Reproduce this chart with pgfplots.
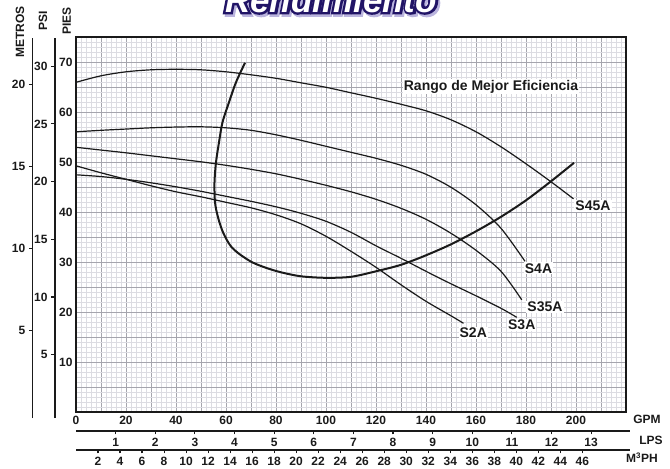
\documentclass[border=0pt]{standalone}
\usepackage{pgfplots}
\pgfplotsset{compat=1.18}
\usepackage{fontspec}
\setmainfont{Liberation Sans}
\newfontfamily\ttlout[FakeBold=14]{Liberation Sans Bold Italic}
\newfontfamily\ttlin{Liberation Sans Bold Italic}

\definecolor{ink}{HTML}{1A1A1A}
\definecolor{gmaj}{HTML}{A5A5AD}
\definecolor{gmin}{HTML}{DCDCE2}
\definecolor{navy}{HTML}{211466}
\definecolor{lav}{HTML}{BBB5DE}

\newcommand{\tl}{\fontsize{12}{12}\selectfont\bfseries}
\newcommand{\lb}{\fontsize{14}{14}\selectfont\bfseries}

\begin{document}
\begin{tikzpicture}
\path[use as bounding box] (0pt,0pt) rectangle (670pt,-469pt);

% title (cut by the top edge)
\node[anchor=base, inner sep=0pt, lav] at (333pt,-14.5pt) {\ttlout\fontsize{35}{35}\selectfont Rendimiento};
\node[anchor=base, inner sep=0pt, navy] at (331pt,-12pt) {\ttlout\fontsize{35}{35}\selectfont Rendimiento};
\node[anchor=base, inner sep=0pt, white] at (331pt,-12pt) {\ttlin\fontsize{35}{35}\selectfont Rendimiento};

\begin{axis}[
  at={(76pt,-412.3pt)}, anchor=south west, scale only axis,
  width=550pt, height=375pt,
  xmin=0, xmax=220, ymin=0, ymax=75,
  xtick={0,10,...,220},
  xticklabels={0,{},20,{},40,{},60,{},80,{},100,{},120,{},140,{},160,{},180,{},200,{},{}},
  ytick={0,5,...,75},
  yticklabels={{},{},10,{},20,{},30,{},40,{},50,{},60,{},70,{}},
  minor x tick num=4, minor y tick num=4,
  grid=both,
  major grid style={gmaj, line width=0.9pt},
  minor grid style={gmin, line width=0.5pt},
  major tick length=0pt, minor tick length=0pt,
  axis line style={ink, line width=1.8pt},
  tick label style={font=\tl, text=ink},
  /pgf/number format/assume math mode=true,
  clip=false,
]
% S45A
\addplot[ink, line width=1.2pt, smooth] coordinates {
(0,66.0) (10,67.3) (20,68.1) (30,68.5) (40,68.6) (50,68.5) (60,68.1) (70,67.5) (80,66.8) (90,65.9) (100,65.0) (110,63.9) (120,62.8) (130,61.6) (140,60.3) (150,58.5) (160,56.1) (170,53.1) (180,49.7) (190,46.1) (199,42.7)};
% S4A
\addplot[ink, line width=1.2pt, smooth] coordinates {
(0,56.1) (10,56.4) (20,56.65) (30,56.9) (40,57.05) (50,57.1) (60,56.9) (70,56.4) (80,55.5) (90,54.4) (100,53.2) (110,52.0) (120,50.8) (130,49.4) (140,47.6) (150,45.0) (160,41.5) (170,36.8) (179.6,30.2)};
% S35A
\addplot[ink, line width=1.2pt, smooth] coordinates {
(0,53.0) (10,52.45) (20,51.9) (30,51.3) (40,50.7) (50,50.1) (60,49.4) (70,48.6) (80,47.7) (90,46.6) (100,45.4) (110,44.1) (120,42.6) (130,40.8) (140,38.6) (150,35.8) (160,32.4) (170,28.2) (178.3,22.5)};
% S3A
\addplot[ink, line width=1.2pt, smooth] coordinates {
(0,47.5) (10,47.15) (20,46.6) (30,45.9) (40,45.1) (50,44.2) (60,43.2) (70,42.2) (80,41.1) (90,39.8) (100,38.2) (110,36.0) (120,33.3) (130,30.8) (140,28.2) (150,25.7) (160,23.3) (170,20.8) (176.3,19.0)};
% S2A
\addplot[ink, line width=1.2pt, smooth] coordinates {
(0,49.3) (10,47.9) (20,46.6) (30,45.3) (40,44.1) (50,43.1) (60,42.0) (70,40.9) (80,39.5) (90,37.7) (100,35.2) (110,32.2) (120,29.0) (130,25.5) (140,22.2) (150,19.3) (155,17.8)};
% best efficiency range boundary
\addplot[ink, line width=2pt, smooth] coordinates {
(67.6,69.9) (64,66) (61.2,62) (58.6,58) (57.2,54) (56,50) (55.4,46) (55.6,42) (56.8,39) (58.8,36) (61.8,33.3) (65.5,31.6) (70.5,30.0) (76,28.9) (82,28.0) (90,27.2) (100,26.9) (110,27.1) (120,28.2) (130,29.5) (140,31.4) (150,33.6) (160,36.2) (170,39.1) (180,42.4) (190,46.2) (199.2,49.9)};

\node[font=\lb, text=ink, fill=white, inner sep=1pt] at (axis cs:166,65.1) {Rango de Mejor Eficiencia};
\node[font=\lb, text=ink, fill=white, inner sep=1pt] at (axis cs:206.8,41.3) {S45A};
\node[font=\lb, text=ink, fill=white, inner sep=1pt] at (axis cs:185,28.8) {S4A};
\node[font=\lb, text=ink, fill=white, inner sep=1pt] at (axis cs:187.6,21.1) {S35A};
\node[font=\lb, text=ink, fill=white, inner sep=1pt] at (axis cs:178.3,17.5) {S3A};
\node[font=\lb, text=ink, fill=white, inner sep=1pt] at (axis cs:158.9,15.9) {S2A};
\end{axis}

% METROS scale
\begin{axis}[
  at={(32.3pt,-418pt)}, anchor=south west, scale only axis,
  width=10pt, height=380pt, xmin=0, xmax=1, ymin=-0.347, ymax=22.82,
  axis x line=none, axis y line*=left,
  ytick={5,10,15,20}, tick align=outside, major tick length=3.5pt,
  axis line style={ink, line width=1.2pt}, tick style={ink, line width=1.1pt},
  yticklabel style={font=\tl, text=ink},
  /pgf/number format/assume math mode=true,
]
\addplot[draw=none] coordinates {(0,0)};
\end{axis}

% PSI scale
\begin{axis}[
  at={(55pt,-418pt)}, anchor=south west, scale only axis,
  width=10pt, height=380pt, xmin=0, xmax=1, ymin=-0.494, ymax=32.45,
  axis x line=none, axis y line*=left,
  ytick={5,10,...,30}, tick align=outside, major tick length=4pt,
  axis line style={ink, line width=1.2pt}, tick style={ink, line width=1.1pt},
  yticklabel style={font=\tl, text=ink},
  /pgf/number format/assume math mode=true,
]
\addplot[draw=none] coordinates {(0,0)};
\end{axis}

% LPS scale
\begin{axis}[
  at={(76pt,-431pt)}, anchor=south west, scale only axis,
  width=554pt, height=5pt, xmin=0, xmax=13.98, ymin=0, ymax=1,
  axis y line=none, axis x line*=bottom,
  xtick={1,...,13}, tick align=outside, major tick length=3.3pt,
  axis line style={ink, line width=1.2pt}, tick style={ink, line width=1.1pt},
  xticklabel style={font=\tl, text=ink},
  /pgf/number format/assume math mode=true,
]
\addplot[draw=none] coordinates {(0,0)};
\end{axis}

% M3PH scale
\begin{axis}[
  at={(76pt,-450pt)}, anchor=south west, scale only axis,
  width=554pt, height=5pt, xmin=0, xmax=50.33, ymin=0, ymax=1,
  axis y line=none, axis x line*=bottom,
  xtick={2,4,...,46}, tick align=outside, major tick length=3.3pt,
  axis line style={ink, line width=1.2pt}, tick style={ink, line width=1.1pt},
  xticklabel style={font=\tl, text=ink},
  /pgf/number format/assume math mode=true,
]
\addplot[draw=none] coordinates {(0,0)};
\end{axis}

\node[font=\tl, text=ink] at (647pt,-419pt) {GPM};
\node[font=\tl, text=ink] at (651pt,-440pt) {LPS};
\node[font=\tl, text=ink] at (642pt,-458pt) {M\textsuperscript{3}PH};
\node[font=\tl, text=ink, rotate=90] at (20pt,-31.7pt) {METROS};
\node[font=\tl, text=ink, rotate=90] at (43pt,-21pt) {PSI};
\node[font=\tl, text=ink, rotate=90] at (66.7pt,-20.8pt) {PIES};
\end{tikzpicture}
\end{document}
